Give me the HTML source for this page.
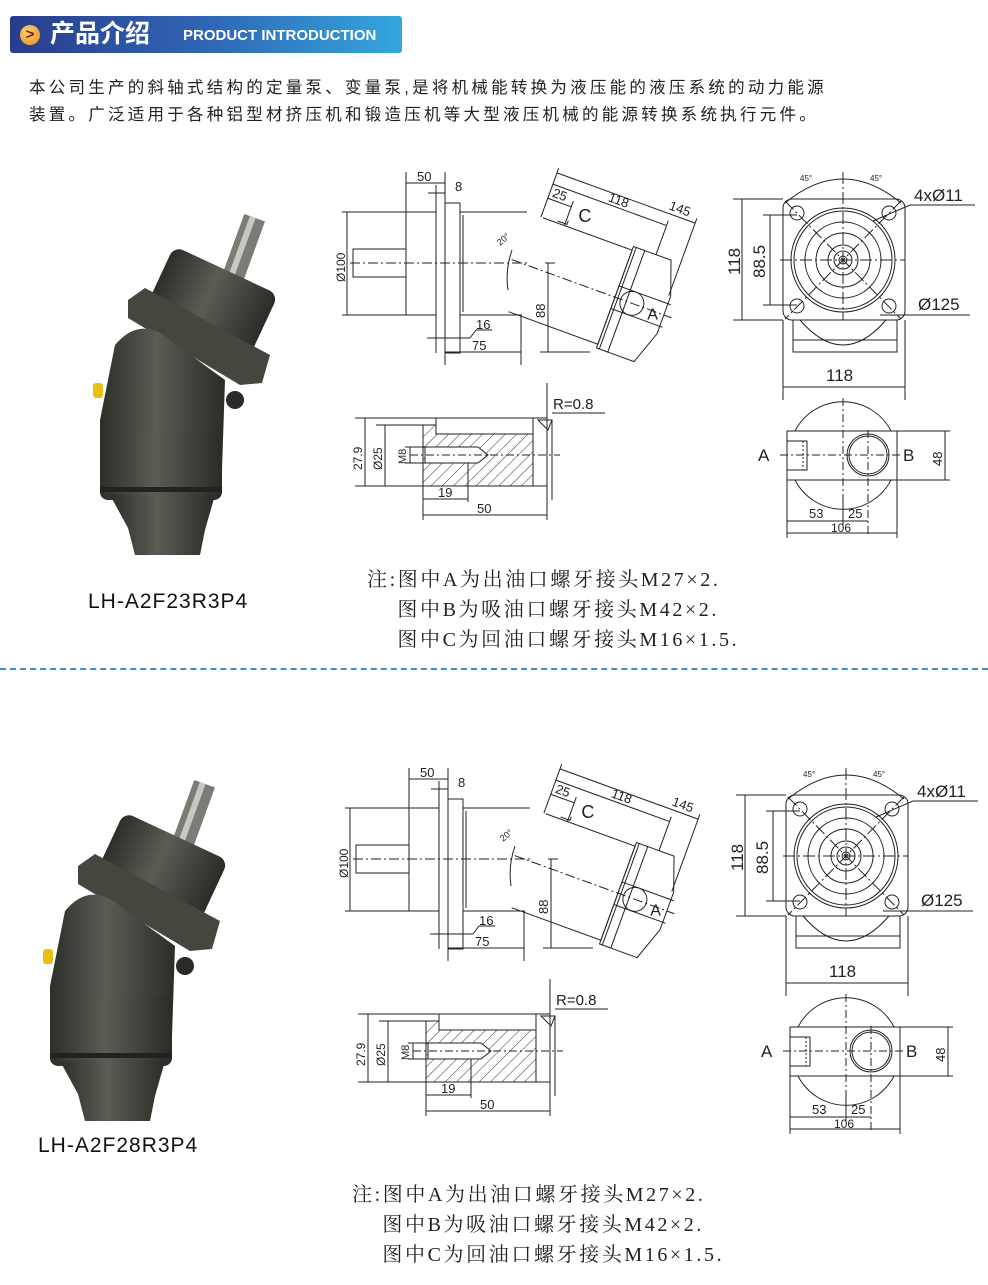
<!DOCTYPE html>
<html><head><meta charset="utf-8"><style>
html,body{margin:0;padding:0;background:#fff;}
body{width:988px;height:1285px;position:relative;overflow:hidden;font-family:"Liberation Sans","Noto Sans CJK SC",sans-serif;}
.hdr{position:absolute;left:10px;top:16px;width:392px;height:37px;border-radius:3px;background:linear-gradient(90deg,#2a3c8c 0%,#2f66b4 50%,#35a6df 100%);}
.circ{position:absolute;left:20px;top:25px;width:20px;height:20px;border-radius:50%;background:radial-gradient(circle at 40% 35%,#ffd27a,#e08a14);color:#8a1010;font:bold 15px/20px "Liberation Sans",sans-serif;text-align:center;}
.cn{position:absolute;left:50px;top:19px;color:#fff;font:bold 25px/30px "Liberation Sans","Noto Sans CJK SC",sans-serif;}
.en{position:absolute;left:183px;top:27px;color:#fff;font:bold 15px/18px "Liberation Sans",sans-serif;}
.p{position:absolute;left:29px;color:#222;font-size:16.5px;letter-spacing:3.25px;white-space:nowrap;}
.note{position:absolute;font-family:"Liberation Serif","Noto Serif CJK SC",serif;font-size:20px;letter-spacing:2.6px;color:#222;line-height:30px;white-space:nowrap;}
.lbl{position:absolute;font-family:"Liberation Sans",sans-serif;font-size:21px;color:#111;letter-spacing:1px;}
.sep{position:absolute;left:0;top:668px;width:988px;border-top:2px dashed #3a8fd0;}
</style></head><body>
<div class="hdr"></div><div class="circ">&gt;</div>
<div class="cn">产品介绍</div><div class="en">PRODUCT INTRODUCTION</div>
<div class="p" style="top:74px">本公司生产的斜轴式结构的定量泵、变量泵,是将机械能转换为液压能的液压系统的动力能源</div>
<div class="p" style="top:101px">装置。广泛适用于各种铝型材挤压机和锻造压机等大型液压机械的能源转换系统执行元件。</div>

<svg width="988" height="1285" style="position:absolute;left:0;top:0" font-family="Liberation Sans,sans-serif">
<defs>
<pattern id="h" width="8" height="8" patternUnits="userSpaceOnUse" patternTransform="rotate(45)"><line x1="0" y1="0" x2="0" y2="8" stroke="#333" stroke-width="1"/></pattern>
<linearGradient id="met" x1="0" x2="1"><stop offset="0" stop-color="#2c2e28"/><stop offset=".45" stop-color="#5a5d54"/><stop offset="1" stop-color="#2a2c27"/></linearGradient>
<g id="pump">
 <g transform="rotate(20 240 255)"><rect x="230" y="215" width="22" height="70" fill="#7a7c76"/><rect x="236" y="215" width="6" height="70" fill="#c8c8c2"/></g>
 <g transform="rotate(25 205 310)"><rect x="150" y="265" width="115" height="85" rx="10" fill="url(#met)"/></g>
 <polygon points="128,300 145,288 270,355 262,383 240,385 128,318" fill="#45473f"/>
 <path d="M115,345 Q140,315 170,340 L225,380 L222,470 L100,480 L100,420 Z" fill="url(#met)"/>
 <rect x="100" y="430" width="122" height="70" rx="8" fill="url(#met)"/>
 <rect x="100" y="487" width="122" height="5" fill="#222"/>
 <path d="M110,495 L215,495 L205,530 L200,555 L135,555 L128,528 Z" fill="url(#met)"/>
 <circle cx="235" cy="400" r="9" fill="#2a2b26"/>
 <rect x="93" y="383" width="10" height="15" rx="3" fill="#e8c010"/>
</g>
<g id="draw" fill="none" stroke="#222" stroke-width="1">
 <line x1="347" y1="212" x2="347" y2="315"/><line x1="342" y1="212" x2="406" y2="212"/><line x1="342" y1="315" x2="406" y2="315"/>
 <rect x="353" y="249" width="53" height="28"/>
 <rect x="406" y="212" width="30" height="103"/>
 <rect x="445" y="203" width="15" height="150"/><line x1="436" y1="203" x2="436" y2="345"/>
 <path d="M460,212 L527,212 M460,315 L522,315 M463,215 L463,312"/>
 <line x1="350" y1="263" x2="530" y2="263" stroke-dasharray="10,3,2,3"/>
 <g transform="translate(521,263) rotate(20)">
  <path d="M5,-50 L100,-50 L100,50 L5,50"/>
  <rect x="100" y="-54" width="12" height="108"/>
  <path d="M112,-54 L140,-54 L152,-20 L152,20 L140,54 L112,54"/>
  <line x1="103" y1="-54" x2="103" y2="54"/>
  <circle cx="118" cy="0" r="12"/>
  <line x1="-10" y1="0" x2="160" y2="0" stroke-dasharray="10,3,2,3"/>
  <line x1="100" y1="-12" x2="155" y2="-12"/><line x1="100" y1="12" x2="155" y2="12"/>
  <path d="M3,-50 L3,-102 M150,-20 L150,-102 M124,-54 L124,-90 M28,-50 L28,-76 M20,-52 L30,-52 L30,-56"/>
  <line x1="3" y1="-97" x2="150" y2="-97"/><line x1="3" y1="-85" x2="124" y2="-85"/><line x1="3" y1="-70" x2="28" y2="-70"/>
  <text x="120" y="-101" font-size="13" fill="#222" stroke="none">145</text>
  <text x="60" y="-88" font-size="13" fill="#222" stroke="none">118</text>
  <text x="6" y="-73" font-size="13" fill="#222" stroke="none">25</text>
  <text x="40" y="-58" font-size="18" fill="#222" stroke="none" transform="rotate(-20 40 -58)">C</text>
  <text x="138" y="10" font-size="16" fill="#222" stroke="none" transform="rotate(-20 138 10)">A</text>
 </g>
 <path d="M508,290 Q505,270 512,250"/>
 <text x="500" y="246" font-size="9" fill="#222" stroke="none" transform="rotate(-40 500 246)">20°</text>
 <path d="M406,172 L406,212 M445,172 L445,203 M436,185 L436,203"/>
 <line x1="406" y1="183" x2="445" y2="183"/><line x1="428" y1="193" x2="445" y2="193"/>
 <text x="417" y="181" font-size="13" fill="#222" stroke="none">50</text>
 <text x="455" y="191" font-size="13" fill="#222" stroke="none">8</text>
 <path d="M436,353 L436,340 M445,353 L445,365 M521,315 L521,365 M548,263 L548,352 M540,352 L590,352 M545,263 L555,263"/>
 <line x1="445" y1="352" x2="521" y2="352"/><path d="M436,338 L470,338 M427,338 L436,338"/><path d="M470,338 L476,330 L492,330"/>
 <text x="476" y="329" font-size="13" fill="#222" stroke="none">16</text>
 <text x="472" y="350" font-size="13" fill="#222" stroke="none">75</text>
 <text x="545" y="318" font-size="13" fill="#222" stroke="none" transform="rotate(-90 545 318)">88</text>
 <text x="345" y="282" font-size="12" fill="#222" stroke="none" transform="rotate(-90 345 282)">Ø100</text>
 <rect x="783" y="199" width="122" height="121" rx="9"/>
 <path d="M793,320 L793,352 L897,352 L897,320 M793,340 L897,340"/>
 <path d="M800,320 Q843,370 886,320"/>
 <circle cx="843" cy="260" r="52"/><circle cx="843" cy="260" r="49"/><circle cx="843" cy="260" r="38"/><circle cx="843" cy="260" r="27"/><circle cx="843" cy="260" r="15"/><circle cx="843" cy="260" r="9"/><circle cx="843" cy="260" r="4"/>
 <circle cx="797" cy="213" r="7"/><circle cx="889" cy="213" r="7"/><circle cx="797" cy="306" r="7"/><circle cx="889" cy="306" r="7"/>
 <path d="M785,201 L901,319 M901,201 L785,319" stroke-dasharray="12,3,2,3"/>
 <path d="M843,172 L843,320 M780,260 L905,260" stroke-dasharray="12,3,2,3"/>
 <path d="M785,203 Q843,155 901,203"/>
 <text x="800" y="181" font-size="8" fill="#222" stroke="none">45°</text><text x="870" y="181" font-size="8" fill="#222" stroke="none">45°</text>
 <path d="M733,199 L783,199 M733,320 L783,320 M742,199 L742,320 M763,215 L797,215 M763,305 L797,305 M770,215 L770,305"/>
 <text x="740" y="275" font-size="17" fill="#222" stroke="none" transform="rotate(-90 740 275)">118</text>
 <text x="765" y="278" font-size="17" fill="#222" stroke="none" transform="rotate(-90 765 278)">88.5</text>
 <path d="M783,320 L783,400 M905,320 L905,400 M783,387 L905,387"/>
 <text x="826" y="381" font-size="17" fill="#222" stroke="none">118</text>
 <path d="M873,221 L910,205 L975,205 M880,315 L970,315"/>
 <text x="914" y="201" font-size="17" fill="#222" stroke="none">4xØ11</text>
 <text x="918" y="310" font-size="17" fill="#222" stroke="none">Ø125</text>
 <path d="M795,431 A54,54 0 0 1 891,431 M795,480 A54,54 0 0 0 891,480"/>
 <rect x="787" y="431" width="110" height="49"/>
 <rect x="787" y="441" width="20" height="29"/><line x1="803" y1="441" x2="803" y2="470" stroke-dasharray="2,2"/>
 <circle cx="868" cy="455" r="21"/><circle cx="868" cy="455" r="19"/>
 <path d="M780,455 L900,455 M843,398 L843,515 M868,430 L868,535" stroke-dasharray="8,3,2,3"/>
 <text x="758" y="461" font-size="17" fill="#222" stroke="none">A</text><text x="903" y="461" font-size="17" fill="#222" stroke="none">B</text>
 <path d="M897,431 L950,431 M897,480 L950,480 M945,431 L945,480"/>
 <text x="942" y="466" font-size="13" fill="#222" stroke="none" transform="rotate(-90 942 466)">48</text>
 <path d="M787,480 L787,538 M897,480 L897,538 M787,521 L843,521 M843,521 L868,521 M787,533 L897,533 M843,500 L843,525"/>
 <text x="809" y="518" font-size="13" fill="#222" stroke="none">53</text><text x="848" y="518" font-size="13" fill="#222" stroke="none">25</text><text x="831" y="532" font-size="12" fill="#222" stroke="none">106</text>
 <path d="M423,425 L423,486 L533,486 L533,434 L436,434 L436,425 Z" fill="url(#h)"/>
 <path d="M355,418 L533,418 L533,434 M436,418 L436,434 M376,425 L423,425 M355,486 L423,486"/>
 <path d="M425,447 L478,447 L488,455 L478,463 L425,463 Z" fill="#fff"/>
 <path d="M533,418 L547,418 M547,383 L547,520 M552,420 L552,500 M533,486 L547,486"/>
 <path d="M538,420 L548,430 L552,420 Z M552,413 L605,413" />
 <text x="553" y="409" font-size="15" fill="#222" stroke="none">R=0.8</text>
 <line x1="410" y1="455" x2="560" y2="455" stroke-dasharray="8,3,2,3"/>
 <path d="M365,418 L365,486 M385,425 L385,486 M410,447 L410,463 M405,447 L425,447 M405,463 L425,463"/>
 <text x="362" y="470" font-size="12" fill="#222" stroke="none" transform="rotate(-90 362 470)">27.9</text>
 <text x="382" y="470" font-size="12" fill="#222" stroke="none" transform="rotate(-90 382 470)">Ø25</text>
 <text x="406" y="464" font-size="11" fill="#222" stroke="none" transform="rotate(-90 406 464)">M8</text>
 <path d="M423,486 L423,520 M468,463 L468,502 M423,499 L468,499 M423,515 L547,515"/>
 <text x="438" y="497" font-size="13" fill="#222" stroke="none">19</text><text x="477" y="513" font-size="13" fill="#222" stroke="none">50</text>
</g>
</defs>
<use href="#pump"/>
<use href="#pump" transform="translate(-50,566)"/>
<use href="#draw"/>
<use href="#draw" transform="translate(3,596)"/>
</svg>

<div class="lbl" style="left:88px;top:590px">LH-A2F23R3P4</div>
<div class="lbl" style="left:38px;top:1134px">LH-A2F28R3P4</div>
<div class="note" style="left:367px;top:565px">注:图中A为出油口螺牙接头M27×2.<br>&nbsp;&nbsp;&nbsp;&nbsp;图中B为吸油口螺牙接头M42×2.<br>&nbsp;&nbsp;&nbsp;&nbsp;图中C为回油口螺牙接头M16×1.5.</div>
<div class="note" style="left:352px;top:1180px">注:图中A为出油口螺牙接头M27×2.<br>&nbsp;&nbsp;&nbsp;&nbsp;图中B为吸油口螺牙接头M42×2.<br>&nbsp;&nbsp;&nbsp;&nbsp;图中C为回油口螺牙接头M16×1.5.</div>
<div class="sep"></div>
</body></html>
